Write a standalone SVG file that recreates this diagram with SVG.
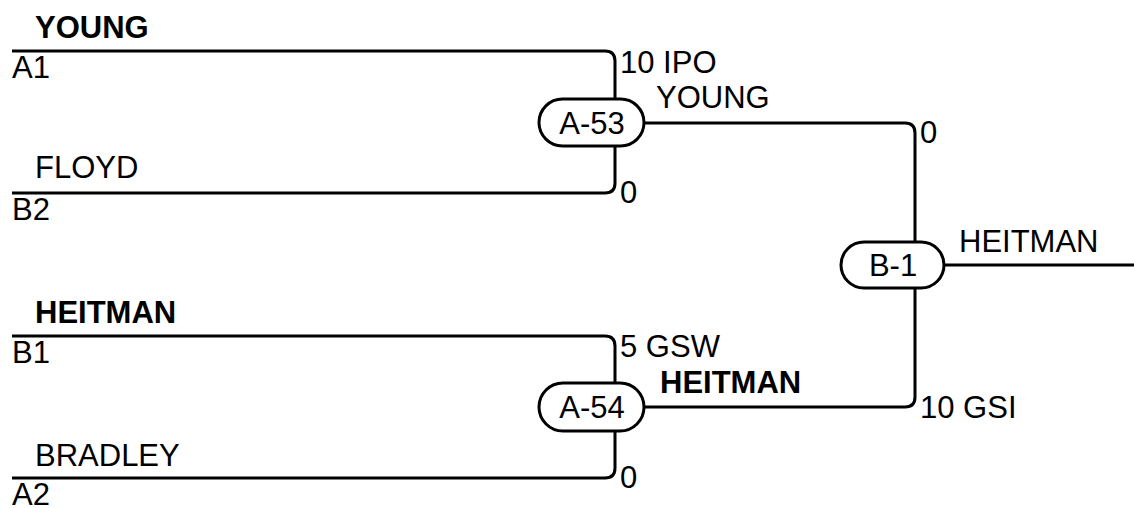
<svg xmlns="http://www.w3.org/2000/svg" width="1134" height="508" viewBox="0 0 1134 508">
<style>
.ln{fill:none;stroke:#000;stroke-width:3}
.nd{fill:#fff;stroke:#000;stroke-width:3}
text{font-family:"Liberation Sans",Arial,sans-serif;font-size:31px;fill:#000}
.b{font-weight:bold}
.c{text-anchor:middle}
</style>
<rect width="1134" height="508" fill="#fff"/>
<g id="connectors">
<path class="ln" d="M12 51 H605 Q615 51 615 61 V99"/>
<path class="ln" d="M12 193 H605 Q615 193 615 183 V146"/>
<path class="ln" d="M644 123 H905 Q915 123 915 133 V242"/>
<path class="ln" d="M12 336 H605 Q615 336 615 346 V383"/>
<path class="ln" d="M12 478 H605 Q615 478 615 468 V431"/>
<path class="ln" d="M644 407 H905 Q915 407 915 397 V288"/>
<path class="ln" d="M944 265 H1134"/>
</g>
<g id="labels">
<text x="35" y="38" class="b">YOUNG</text>
<text x="12" y="78">A1</text>
<text x="35" y="178">FLOYD</text>
<text x="12" y="220">B2</text>
<text x="35" y="323" class="b">HEITMAN</text>
<text x="12" y="363">B1</text>
<text x="35" y="466">BRADLEY</text>
<text x="12" y="505">A2</text>
<text x="620" y="73">10 IPO</text>
<text x="656" y="108">YOUNG</text>
<text x="620" y="203">0</text>
<text x="620" y="357">5 GSW</text>
<text x="660" y="393" class="b">HEITMAN</text>
<text x="620" y="488">0</text>
<text x="920" y="143">0</text>
<text x="959" y="252">HEITMAN</text>
<text x="920" y="418">10 GSI</text>
</g>
<g id="A-53">
<rect class="nd" x="539" y="99" width="105" height="47" rx="23.5"/>
<text x="592" y="134" class="c">A-53</text>
</g>
<g id="A-54">
<rect class="nd" x="539" y="383" width="105" height="48" rx="24"/>
<text x="592" y="418" class="c">A-54</text>
</g>
<g id="B-1">
<rect class="nd" x="841" y="242" width="103" height="46" rx="23"/>
<text x="893" y="276" class="c">B-1</text>
</g>
</svg>
